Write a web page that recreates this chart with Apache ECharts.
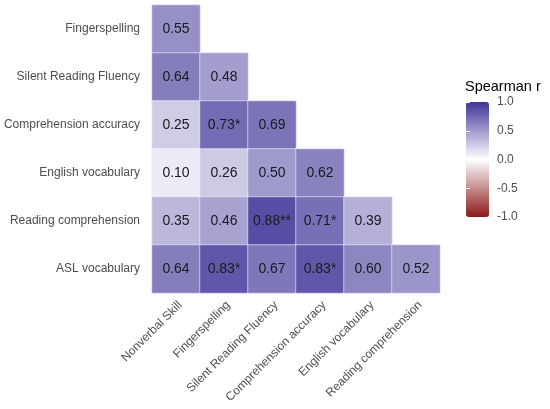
<!DOCTYPE html>
<html>
<head>
<meta charset="utf-8">
<script src="https://cdn.jsdelivr.net/npm/echarts@6/dist/echarts.min.js"></script>
<style>
  html, body { margin: 0; padding: 0; background: #fff; }
  #main { width: 550px; height: 409px; }
</style>
</head>
<body>
<div id="main"></div>
<script>
// 列 / 行
var columns = ['Nonverbal Skill', 'Fingerspelling', 'Silent Reading Fluency', 'Comprehension accuracy', 'English vocabulary', 'Reading comprehension'];
var rows = ['Fingerspelling', 'Silent Reading Fluency', 'Comprehension accuracy', 'English vocabulary', 'Reading comprehension', 'ASL vocabulary'];

// 下三角 Spearman r，每行一组
var rValues = [
    [0.55],
    [0.64, 0.48],
    [0.25, 0.73, 0.69],
    [0.10, 0.26, 0.50, 0.62],
    [0.35, 0.46, 0.88, 0.71, 0.39],
    [0.64, 0.83, 0.67, 0.83, 0.60, 0.52]
];
// 显著性星号
var stars = [
    [''],
    ['', ''],
    ['', '*', ''],
    ['', '', '', ''],
    ['', '', '**', '*', ''],
    ['', '*', '', '*', '', '']
];

var cells = [];
for (var i = 0; i < rValues.length; i++) {
    for (var j = 0; j < rValues[i].length; j++) {
        cells.push([j, i, rValues[i][j], stars[i][j]]);
    }
}

var font = 'Liberation Sans, Arial, sans-serif';
var chart = echarts.init(document.getElementById('main'));

// 色条刻度（左右两侧的白色短线）
function barAxis(pos, showLabel) {
    return {
        type: 'value',
        gridIndex: 1,
        position: pos,
        min: -1,
        max: 1,
        interval: 0.5,
        z: 10,
        axisLine: { show: false },
        splitLine: { show: false },
        axisTick: { show: true, inside: true, length: 4, lineStyle: { color: '#fff', width: 1 } },
        axisLabel: {
            show: showLabel,
            margin: 8,
            fontSize: 12,
            color: '#4d4d4d',
            formatter: function (v) { return v.toFixed(1); }
        }
    };
}

var option = {
    animation: false,
    textStyle: { fontFamily: font },
    title: {
        text: 'Spearman r',
        left: 465,
        top: 79,
        padding: 0,
        textStyle: { fontSize: 14.5, fontWeight: 'normal', color: '#000', fontFamily: font }
    },
    grid: [
        { left: 152, top: 5, width: 288, height: 288 },
        { left: 466, top: 102, width: 23, height: 115 }
    ],
    xAxis: [{
        type: 'category',
        gridIndex: 0,
        data: columns,
        axisLine: { show: false },
        axisTick: { show: false },
        splitLine: { show: false },
        axisLabel: { rotate: 45, margin: 6, fontSize: 12, color: '#4d4d4d', interval: 0, verticalAlign: 'top' }
    }, {
        type: 'value',
        gridIndex: 1,
        show: false
    }],
    yAxis: [{
        type: 'category',
        gridIndex: 0,
        inverse: true,
        data: rows,
        axisLine: { show: false },
        axisTick: { show: false },
        splitLine: { show: false },
        axisLabel: { margin: 12, fontSize: 12, color: '#4d4d4d' }
    }, barAxis('right', true), barAxis('left', false)],
    visualMap: {
        type: 'continuous',
        min: -1,
        max: 1,
        seriesIndex: 0,
        dimension: 2,
        calculable: false,
        left: 466,
        top: 102,
        padding: 0,
        itemWidth: 23,
        itemHeight: 115,
        text: null,
        inRange: { color: ['#8b1a1a', '#ffffff', '#3f3598'] }
    },
    series: [{
        type: 'heatmap',
        xAxisIndex: 0,
        yAxisIndex: 0,
        data: cells,
        itemStyle: { borderColor: '#f4f2fa', borderWidth: 0.6 },
        label: {
            show: true,
            fontSize: 14,
            color: '#1a1a1a',
            formatter: function (p) { return p.value[2].toFixed(2) + p.value[3]; }
        },
        emphasis: { disabled: true }
    }]
};

chart.setOption(option);
</script>
</body>
</html>
